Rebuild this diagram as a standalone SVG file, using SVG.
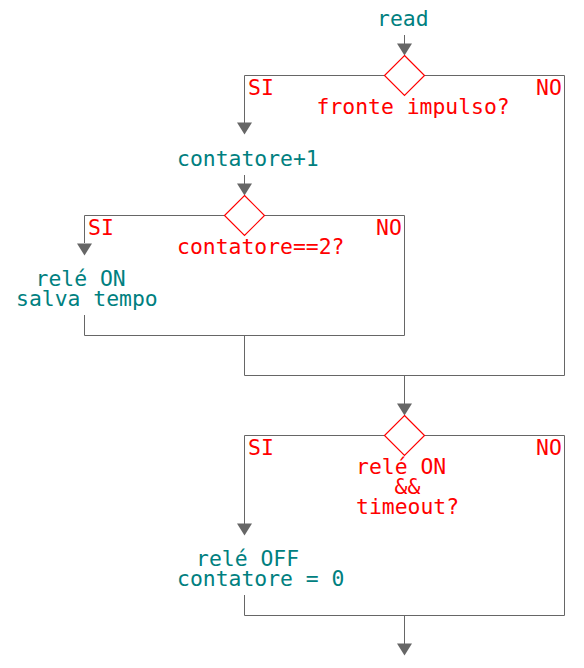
<svg xmlns="http://www.w3.org/2000/svg" width="584" height="668" viewBox="0 0 584 668">
<style>
text{font-family:"DejaVu Sans Mono",monospace;font-size:21.4px}
.t{fill:#008080}
.q{fill:#ff0000}
.ln{stroke:#666;stroke-width:1;fill:none}
.ah{fill:#666}
</style>
<defs>
<path id="arr" d="M-7.5,-12 L7.5,-12 L0,0 Z"/>
</defs>
<rect width="584" height="668" fill="#fff"/>
<g id="connectors">
<path class="ln" d="M404.5,35 V44"/>
<path class="ln" d="M244.5,123 V75.5 H564.5 V375.5"/>
<path class="ln" d="M244.5,175 V184"/>
<path class="ln" d="M84.5,243 V215.5 H404.5 V335.5"/>
<path class="ln" d="M84.5,315 V335.5 H404.5"/>
<path class="ln" d="M244.5,335.5 V375.5 H564.5"/>
<path class="ln" d="M404.5,375.5 V404"/>
<path class="ln" d="M244.5,524 V435.5 H564.5 V615.5"/>
<path class="ln" d="M244.5,595 V615.5 H564.5"/>
<path class="ln" d="M404.5,615.5 V644"/>
<use href="#arr" class="ah" x="404.5" y="55.5"/>
<use href="#arr" class="ah" x="244.5" y="134.5"/>
<use href="#arr" class="ah" x="244.5" y="195.5"/>
<use href="#arr" class="ah" x="84.5" y="255.5"/>
<use href="#arr" class="ah" x="404.5" y="415.5"/>
<use href="#arr" class="ah" x="244.5" y="535.5"/>
<use href="#arr" class="ah" x="404.5" y="655.5"/>
</g>
<g id="read"><text class="t" x="377" y="26">read</text></g>
<g id="dec1">
<path d="M404.5,55.5 L424.5,75.5 L404.5,95.5 L384.5,75.5 Z" fill="#fff" stroke="#ff0000" stroke-width="1.2"/>
<text class="q" x="248" y="94.5">SI</text>
<text class="q" x="536" y="94.5">NO</text>
<text class="q" x="316.5" y="114">fronte impulso?</text>
</g>
<g id="inc"><text class="t" x="177" y="166">contatore+1</text></g>
<g id="dec2">
<path d="M244.5,195.5 L264.5,215.5 L244.5,235.5 L224.5,215.5 Z" fill="#fff" stroke="#ff0000" stroke-width="1.2"/>
<text class="q" x="88" y="234.5">SI</text>
<text class="q" x="376" y="234.5">NO</text>
<text class="q" x="177" y="254">contatore==2?</text>
</g>
<g id="releOn">
<text class="t" x="35.5" y="286">relé ON</text>
<text class="t" x="16" y="306">salva tempo</text>
</g>
<g id="dec3">
<path d="M404.5,415.5 L424.5,435.5 L404.5,455.5 L384.5,435.5 Z" fill="#fff" stroke="#ff0000" stroke-width="1.2"/>
<text class="q" x="248" y="454.5">SI</text>
<text class="q" x="536" y="454.5">NO</text>
<text class="q" x="356" y="474">relé ON</text>
<text class="q" x="394.5" y="494">&amp;&amp;</text>
<text class="q" x="356" y="514">timeout?</text>
</g>
<g id="releOff">
<text class="t" x="196" y="566">relé OFF</text>
<text class="t" x="177" y="586">contatore = 0</text>
</g>
</svg>
